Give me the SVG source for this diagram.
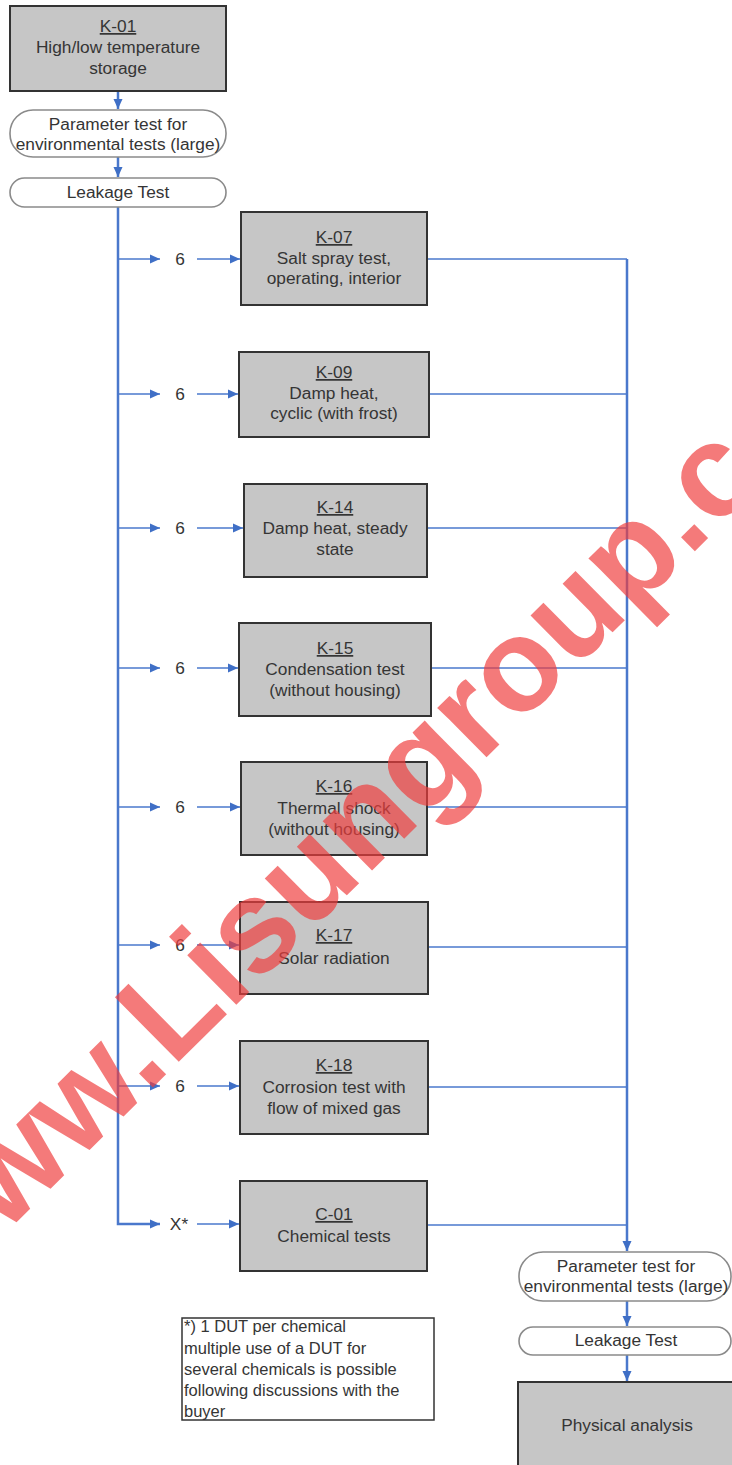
<svg xmlns="http://www.w3.org/2000/svg" width="732" height="1465" viewBox="0 0 732 1465">
<style>
.box{fill:#c6c6c6;stroke:#333;stroke-width:2}
.pill{fill:#fff;stroke:#8a8a8a;stroke-width:1.6}
.note{fill:#fff;stroke:#333;stroke-width:1.5}
text{font-family:"Liberation Sans",Arial,sans-serif;font-size:17.3px;fill:#353535}
.c{text-anchor:middle}
.u{text-decoration:underline}
.n{font-size:16.5px}
.main{stroke:#4a78cc;stroke-width:2.5;fill:none}
.br{stroke:#4a78cc;stroke-width:1.6;fill:none}
.wm{font-family:"Liberation Sans",Arial,sans-serif;font-weight:bold;font-size:132px;fill:#f03c3c;opacity:0.68}
</style>
<defs>
<marker id="ah" markerUnits="userSpaceOnUse" markerWidth="11" markerHeight="10" refX="10" refY="5" orient="auto">
<path d="M0,0.5 L10,5 L0,9.5 z" fill="#3f6fc6"/>
</marker>
</defs>

<g id="connectors">
<line class="main" x1="118" y1="91" x2="118" y2="109" marker-end="url(#ah)"/>
<line class="main" x1="118" y1="157" x2="118" y2="177" marker-end="url(#ah)"/>
<polyline class="main" points="118,207 118,1224 160,1224" marker-end="url(#ah)"/>
<line class="br" x1="118" y1="259" x2="160" y2="259" marker-end="url(#ah)"/>
<line class="br" x1="197" y1="259" x2="240" y2="259" marker-end="url(#ah)"/>
<line class="br" x1="118" y1="394" x2="160" y2="394" marker-end="url(#ah)"/>
<line class="br" x1="197" y1="394" x2="238" y2="394" marker-end="url(#ah)"/>
<line class="br" x1="118" y1="528" x2="160" y2="528" marker-end="url(#ah)"/>
<line class="br" x1="197" y1="528" x2="243" y2="528" marker-end="url(#ah)"/>
<line class="br" x1="118" y1="668" x2="160" y2="668" marker-end="url(#ah)"/>
<line class="br" x1="197" y1="668" x2="238" y2="668" marker-end="url(#ah)"/>
<line class="br" x1="118" y1="807" x2="160" y2="807" marker-end="url(#ah)"/>
<line class="br" x1="197" y1="807" x2="240" y2="807" marker-end="url(#ah)"/>
<line class="br" x1="118" y1="945" x2="160" y2="945" marker-end="url(#ah)"/>
<line class="br" x1="197" y1="945" x2="239" y2="945" marker-end="url(#ah)"/>
<line class="br" x1="118" y1="1086" x2="160" y2="1086" marker-end="url(#ah)"/>
<line class="br" x1="197" y1="1086" x2="239" y2="1086" marker-end="url(#ah)"/>
<line class="br" x1="197" y1="1224" x2="239" y2="1224" marker-end="url(#ah)"/>
<line class="br" x1="427" y1="259" x2="627" y2="259"/>
<line class="br" x1="429" y1="394" x2="627" y2="394"/>
<line class="br" x1="427" y1="528" x2="627" y2="528"/>
<line class="br" x1="431" y1="668" x2="627" y2="668"/>
<line class="br" x1="427" y1="807" x2="627" y2="807"/>
<line class="br" x1="428" y1="947" x2="627" y2="947"/>
<line class="br" x1="428" y1="1087" x2="627" y2="1087"/>
<line class="br" x1="427" y1="1225" x2="627" y2="1225"/>
<line class="main" x1="627" y1="259" x2="627" y2="1251" marker-end="url(#ah)"/>
<line class="main" x1="627" y1="1301" x2="627" y2="1326" marker-end="url(#ah)"/>
<line class="main" x1="627" y1="1355" x2="627" y2="1381" marker-end="url(#ah)"/>
<text class="c" x="180" y="265">6</text>
<text class="c" x="180" y="400">6</text>
<text class="c" x="180" y="534">6</text>
<text class="c" x="180" y="674">6</text>
<text class="c" x="180" y="813">6</text>
<text class="c" x="180" y="951">6</text>
<text class="c" x="180" y="1092">6</text>
<text class="c" x="179" y="1230">X*</text>
</g>

<g id="K-01">
<rect class="box" x="10" y="6" width="216" height="85"/>
<text class="c u" x="118" y="32">K-01</text>
<text class="c" x="118" y="53">High/low temperature</text>
<text class="c" x="118" y="74">storage</text>
</g>
<g id="param1">
<rect class="pill" x="10" y="110" width="216" height="47" rx="23"/>
<text class="c" x="118" y="130">Parameter test for</text>
<text class="c" x="118" y="150">environmental tests (large)</text>
</g>
<g id="leak1">
<rect class="pill" x="10" y="178" width="216" height="29" rx="14.5"/>
<text class="c" x="118" y="198">Leakage Test</text>
</g>

<g id="K-07">
<rect class="box" x="241" y="212" width="186" height="93"/>
<text class="c u" x="334" y="243">K-07</text>
<text class="c" x="334" y="264">Salt spray test,</text>
<text class="c" x="334" y="284">operating, interior</text>
</g>
<g id="K-09">
<rect class="box" x="239" y="352" width="190" height="85"/>
<text class="c u" x="334" y="378">K-09</text>
<text class="c" x="334" y="399">Damp heat,</text>
<text class="c" x="334" y="419">cyclic (with frost)</text>
</g>
<g id="K-14">
<rect class="box" x="244" y="484" width="183" height="93"/>
<text class="c u" x="335" y="513">K-14</text>
<text class="c" x="335" y="534">Damp heat, steady</text>
<text class="c" x="335" y="555">state</text>
</g>
<g id="K-15">
<rect class="box" x="239" y="623" width="192" height="93"/>
<text class="c u" x="335" y="654">K-15</text>
<text class="c" x="335" y="675">Condensation test</text>
<text class="c" x="335" y="696">(without housing)</text>
</g>
<g id="K-16">
<rect class="box" x="241" y="762" width="186" height="93"/>
<text class="c u" x="334" y="792">K-16</text>
<text class="c" x="334" y="814">Thermal shock</text>
<text class="c" x="334" y="835">(without housing)</text>
</g>
<g id="K-17">
<rect class="box" x="240" y="902" width="188" height="92"/>
<text class="c u" x="334" y="941">K-17</text>
<text class="c" x="334" y="964">Solar radiation</text>
</g>
<g id="K-18">
<rect class="box" x="240" y="1041" width="188" height="93"/>
<text class="c u" x="334" y="1071">K-18</text>
<text class="c" x="334" y="1093">Corrosion test with</text>
<text class="c" x="334" y="1114">flow of mixed gas</text>
</g>
<g id="C-01">
<rect class="box" x="240" y="1181" width="187" height="90"/>
<text class="c u" x="334" y="1220">C-01</text>
<text class="c" x="334" y="1242">Chemical tests</text>
</g>

<g id="param2">
<rect class="pill" x="519" y="1252" width="212" height="49" rx="24"/>
<text class="c" x="626" y="1272">Parameter test for</text>
<text class="c" x="626" y="1292">environmental tests (large)</text>
</g>
<g id="leak2">
<rect class="pill" x="519" y="1327" width="212" height="28" rx="14"/>
<text class="c" x="626" y="1346">Leakage Test</text>
</g>
<g id="physical">
<rect class="box" x="518" y="1382" width="220" height="90"/>
<text class="c" x="627" y="1431">Physical analysis</text>
</g>

<g id="footnote">
<rect class="note" x="182" y="1318" width="252" height="102"/>
<text class="n" x="184" y="1332">*) 1 DUT per chemical</text>
<text class="n" x="184" y="1354">multiple use of a DUT for</text>
<text class="n" x="184" y="1375">several chemicals is possible</text>
<text class="n" x="184" y="1396">following discussions with the</text>
<text class="n" x="184" y="1417">buyer</text>
</g>

<g id="watermark">
<text class="wm" x="0" y="0" transform="translate(-69,1307) rotate(-44.7)">www.Lisungroup.com</text>
</g>
</svg>
